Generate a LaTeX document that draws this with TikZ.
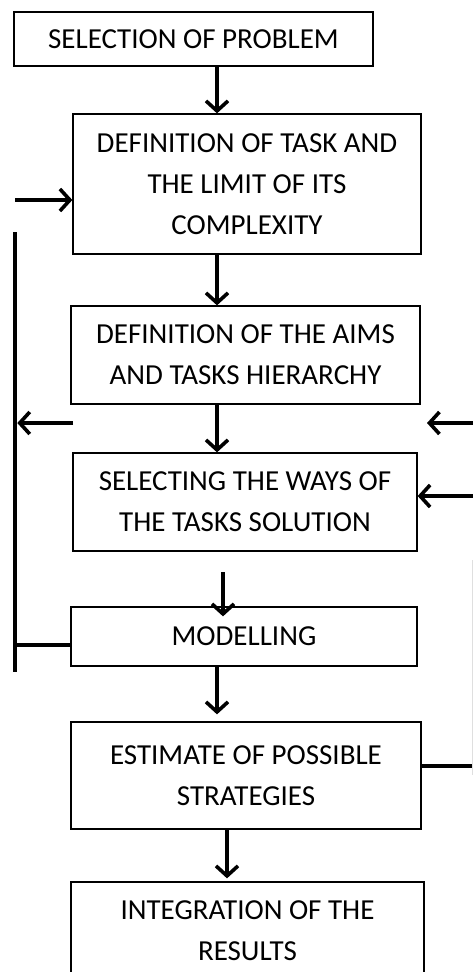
\documentclass[tikz,border=0pt]{standalone}
\usepackage{fontspec}
\setmainfont{Carlito}
\usetikzlibrary{arrows.meta,calc}
\begin{document}
\begin{tikzpicture}[x=1pt,y=-1pt,
  box/.style={draw=black,line width=1.3pt,align=center,inner sep=0pt,
    font=\fontsize{29}{41}\selectfont},
  arr/.style={line width=4pt,-{Straight Barb[length=10pt,width=22pt,line width=3.6pt]}},
  bar/.style={line width=4.6pt},
  link/.style={line width=4pt}]
\useasboundingbox (0,0) rectangle (473,972);
\clip (0,0) rectangle (473,972);
% boxes
\node[box,minimum width=359pt,minimum height=54pt] (b1) at (193.5,39) {SELECTION OF PROBLEM};
\node[box,minimum width=348pt,minimum height=140pt] (b2) at (247,184) {DEFINITION OF TASK AND\\THE LIMIT OF ITS\\COMPLEXITY};
\node[box,minimum width=349pt,minimum height=98pt] (b3) at (245.5,355) {DEFINITION OF THE AIMS\\AND TASKS HIERARCHY};
\node[box,minimum width=344pt,minimum height=98pt] (b4) at (245,502) {SELECTING THE WAYS OF\\THE TASKS SOLUTION};
\node[box,minimum width=346pt,minimum height=59pt] (b5) at (244,636.5) {MODELLING};
\node[box,minimum width=350pt,minimum height=107pt] (b6) at (246,775.5) {ESTIMATE OF POSSIBLE\\STRATEGIES};
\node[box,minimum width=353pt,minimum height=98pt] (b7) at (247.5,931) {INTEGRATION OF THE\\RESULTS};
% column coordinates
\coordinate (cx) at (217,0);
\coordinate (cz) at (227,0);
\coordinate (m4) at (223,572);
% main flow
\draw[arr] (b1.south -| cx) -- (b2.north -| cx);
\draw[arr] (b2.south -| cx) -- (b3.north -| cx);
\draw[arr] (b3.south -| cx) -- (b4.north -| cx);
\draw[arr] (m4) -- ($(b5.north -| m4)+(0,10)$);
\draw[arr] (b5.south -| cx) -- ($(b6.north -| cx)+(0,-7)$);
\draw[arr] (b6.south -| cz) -- ($(b7.north -| cz)+(0,-3)$);
% left feedback
\coordinate (Lt) at (15,232);
\coordinate (Lb) at (15,672);
\coordinate (Lin) at (15,200);
\coordinate (Lfb) at (73,423);
\coordinate (Lm) at (15,645);
\draw[bar] (Lt) -- (Lb);
\draw[arr] (Lin) -- (Lin -| b2.west);
\draw[arr] (Lfb) -- ($(Lfb -| Lt)+(2.3,0)$);
\draw[link] (Lm -| b5.west) -- (Lm);
% right side
\coordinate (R1) at (473,423);
\coordinate (R1e) at (427,423);
\coordinate (R2) at (473,496);
\coordinate (R3) at (473,766);
\coordinate (Rt) at (472.6,560);
\coordinate (Rb) at (472.6,775);
\draw[arr] (R1) -- (R1e);
\draw[arr] (R2) -- (R2 -| b4.east);
\draw[link] (R3 -| b6.east) -- (R3);
\draw[gray!25,line width=0.8pt] (Rt) -- (Rb);
\end{tikzpicture}
\end{document}
